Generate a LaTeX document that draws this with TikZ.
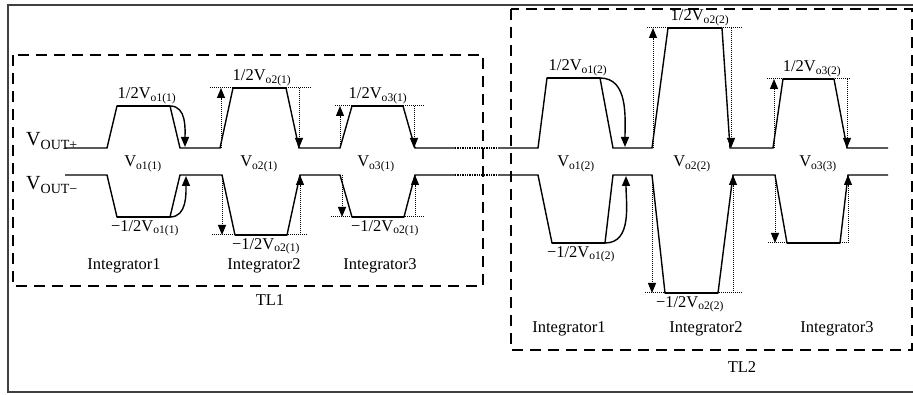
\documentclass[tikz,border=0pt]{standalone}
\usepackage{fontspec}
\setmainfont{Liberation Serif}
\usetikzlibrary{arrows.meta}

\begin{document}
\begin{tikzpicture}[x=1pt, y=-1pt, >={Triangle[length=10pt,width=8pt]},
    wave/.style={line width=1.4pt},
    level/.style={line width=2.8pt},
    guide/.style={densely dotted, line width=1pt},
    tlbox/.style={dash pattern=on 11pt off 7pt, line width=1.4pt},
    lbl/.style={font=\fontsize{16.5}{19}\selectfont, inner sep=1pt}]
    \useasboundingbox (0,0) rectangle (913,395);

    % Frame
    \draw[black!75, line width=1.2pt] (930,5) -- (8,5) -- (8,392) -- (930,392);

    % TL boxes
    \draw[tlbox] (13,55) rectangle (483,286);
    \draw[tlbox] (511,9) rectangle (912,350);

    % VOUT+ waveform
    \draw[wave] (65,148) -- (107,148) -- (117,106) -- (170,106) -- (180,148) -- (220,148) -- (233,88) -- (286,88) -- (299,148) -- (340,148) -- (352,106) -- (403,106) -- (415,148) -- (455,148);
    \draw[wave, densely dotted] (455,148) -- (498,148);
    \draw[wave] (498,148) -- (538,148) -- (547,78) -- (600,78) -- (613,148) -- (652,148) -- (668,28) -- (722,28) -- (730,148) -- (773,148) -- (783,79) -- (834,79) -- (847,148) -- (888,148);

    % VOUT- waveform
    \draw[wave] (65,175) -- (107,175) -- (117,217) -- (170,217) -- (180,175) -- (222,175) -- (235,235) -- (287,235) -- (300,175) -- (340,175) -- (352,217) -- (404,217) -- (415,175) -- (455,175);
    \draw[wave, densely dotted] (455,175) -- (498,175);
    \draw[wave] (498,175) -- (538,175) -- (552,243) -- (605,243) -- (613,175) -- (652,175) -- (665,293) -- (718,293) -- (733,175) -- (775,175) -- (787,243) -- (840,243) -- (848,175) -- (888,175);

    % Levels
    \foreach \xa/\xb/\y in {117/170/106, 233/286/88, 352/403/106, 547/600/78, 668/722/28, 783/834/79,
                            117/170/217, 235/287/235, 352/404/217, 552/605/243, 665/718/293, 787/840/243}
        \draw[level] (\xa,\y) -- (\xb,\y);

    % Integrator1 arrows
    \draw[wave, ->] (170,106) to[out=0, in=90] (185,147);
    \draw[wave, ->] (170,217) to[out=0, in=-90] (186,176);
    \draw[wave, ->] (600,78) to[out=0, in=90] (625,147);
    \draw[wave, ->] (605,243) to[out=0, in=-90] (626,176);

    % Guides
    \draw[guide] (210,88) -- (312,88);
    \draw[guide] (212,235) -- (307,235);
    \draw[guide] (335,106) -- (425,106);
    \draw[guide] (331,217) -- (425,217);
    \draw[guide] (647,28) -- (742,28);
    \draw[guide] (645,293) -- (742,293);
    \draw[guide] (767,79) -- (850,79);
    \draw[guide] (768,243) -- (850,243);
    \foreach \x/\ya/\yb in {221/148/88, 299/88/148, 222/175/235, 300/235/175,
                            340/148/106, 414/106/148, 342/175/217, 415/217/175,
                            653/148/28, 731/28/148, 652/175/293, 733/293/175,
                            774/148/79, 847/79/148, 775/175/243, 848/243/175}
        \draw[guide, ->] (\x,\ya) -- (\x,\yb);

    % Labels
    \node[lbl, font=\fontsize{20}{22}\selectfont, anchor=base west] (voutp) at (25,146) {V\textsubscript{OUT+}};
    \node[lbl, font=\fontsize{20}{22}\selectfont, anchor=base west] (voutn) at (25,190) {V\textsubscript{OUT−}};

    \node[lbl, anchor=south] (hi11) at (147,105) {1/2V\textsubscript{o1(1)}};
    \node[lbl] (v11) at (143,164) {V\textsubscript{o1(1)}};
    \node[lbl, anchor=north] (lo11) at (145,219) {−1/2V\textsubscript{o1(1)}};
    \node[lbl] (int11) at (124,266) {Integrator1};

    \node[lbl, anchor=south] (hi21) at (262,87) {1/2V\textsubscript{o2(1)}};
    \node[lbl] (v21) at (259,164) {V\textsubscript{o2(1)}};
    \node[lbl, anchor=north] (lo21) at (266,237) {−1/2V\textsubscript{o2(1)}};
    \node[lbl] (int21) at (264,266) {Integrator2};

    \node[lbl, anchor=south] (hi31) at (378,105) {1/2V\textsubscript{o3(1)}};
    \node[lbl] (v31) at (376,164) {V\textsubscript{o3(1)}};
    \node[lbl, anchor=north] (lo31) at (385,219) {−1/2V\textsubscript{o2(1)}};
    \node[lbl] (int31) at (380,266) {Integrator3};

    \node[lbl] (tl1) at (270,300) {TL1};

    \node[lbl, anchor=south] (hi12) at (578,77) {1/2V\textsubscript{o1(2)}};
    \node[lbl] (v12) at (576,164) {V\textsubscript{o1(2)}};
    \node[lbl, anchor=north] (lo12) at (581,245) {−1/2V\textsubscript{o1(2)}};
    \node[lbl] (int12) at (569,329) {Integrator1};

    \node[lbl, anchor=south] (hi22) at (700,27) {1/2V\textsubscript{o2(2)}};
    \node[lbl] (v22) at (692,164) {V\textsubscript{o2(2)}};
    \node[lbl, anchor=north] (lo22) at (690,295) {−1/2V\textsubscript{o2(2)}};
    \node[lbl] (int22) at (706,329) {Integrator2};

    \node[lbl, anchor=south] (hi32) at (812,78) {1/2V\textsubscript{o3(2)}};
    \node[lbl] (v32) at (818,164) {V\textsubscript{o3(3)}};
    \node[lbl] (int32) at (837,329) {Integrator3};

    \node[lbl] (tl2) at (742,367) {TL2};
\end{tikzpicture}
\end{document}
